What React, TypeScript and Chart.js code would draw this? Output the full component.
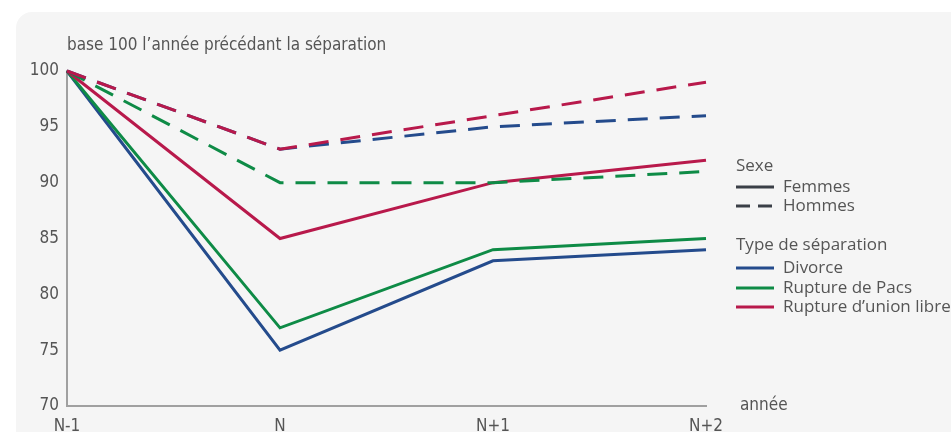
import React, { useEffect, useRef } from "react";
import { Chart, registerables } from "chart.js";

Chart.register(...registerables);

const categories = ["N-1", "N", "N+1", "N+2"];
const divorceFemmes = [100, 75, 83, 84];
const pacsFemmes = [100, 77, 84, 85];
const unionFemmes = [100, 85, 90, 92];
const divorceHommes = [100, 93, 95, 96];
const pacsHommes = [100, 90, 90, 91];
const unionHommes = [100, 93, 96, 99];

const BLUE = "#244b8c";
const GREEN = "#0e8b46";
const RED = "#b8194b";
const TEXT = "#555";
const CONDENSED = "'Liberation Sans Narrow', 'DejaVu Sans Condensed', 'Open Sans', sans-serif";
const SANS = "'Open Sans', 'Noto Sans', sans-serif";

const overlayPlugin = {
  id: "overlay",
  afterDraw(chart: any) {
    const ctx = chart.ctx as CanvasRenderingContext2D;
    const area = chart.chartArea;
    ctx.save();
    ctx.fillStyle = TEXT;
    ctx.font = `17px ${CONDENSED}`;
    ctx.textBaseline = "middle";
    ctx.textAlign = "left";
    ctx.fillText("base 100 l’année précédant la séparation", area.left, 46);
    ctx.fillText("année", area.right + 34, area.bottom);

    const lx = 736;
    const drawItem = (y: number, color: string, dash: number[], label: string) => {
      ctx.beginPath();
      ctx.setLineDash(dash);
      ctx.strokeStyle = color;
      ctx.lineWidth = 3;
      ctx.moveTo(lx, y);
      ctx.lineTo(lx + 38, y);
      ctx.stroke();
      ctx.setLineDash([]);
      ctx.fillStyle = TEXT;
      ctx.fillText(label, lx + 47, y);
    };
    ctx.font = `17px ${SANS}`;
    ctx.fillStyle = TEXT;
    ctx.fillText("Sexe", lx, 166);
    drawItem(187, "#3a3f47", [], "Femmes");
    drawItem(206, "#3a3f47", [14, 8], "Hommes");
    ctx.fillStyle = TEXT;
    ctx.fillText("Type de séparation", lx, 245);
    drawItem(268, BLUE, [], "Divorce");
    drawItem(288, GREEN, [], "Rupture de Pacs");
    drawItem(307, RED, [], "Rupture d’union libre");
    ctx.restore();
  },
};

export default function App() {
  const ref = useRef<HTMLCanvasElement>(null);
  useEffect(() => {
    if (!ref.current) return;
    const line = (data: number[], color: string, dashed: boolean) => ({
      data,
      borderColor: color,
      backgroundColor: color,
      borderWidth: 3,
      borderDash: dashed ? [20, 12] : [],
      pointRadius: 0,
      tension: 0,
      fill: false,
      clip: false as any,
    });
    const chart = new Chart(ref.current, {
      type: "line",
      data: {
        labels: categories,
        datasets: [
          line(unionHommes, RED, true),
          line(divorceHommes, BLUE, true),
          line(pacsHommes, GREEN, true),
          line(unionFemmes, RED, false),
          line(pacsFemmes, GREEN, false),
          line(divorceFemmes, BLUE, false),
        ],
      },
      options: {
        animation: false,
        responsive: false,
        layout: { padding: { left: 0, top: 71, right: 245, bottom: 0 } },
        plugins: { legend: { display: false }, title: { display: false }, tooltip: { enabled: false } },
        scales: {
          x: {
            offset: false,
            grid: { display: false },
            border: { display: true, color: "#a0a0a0", width: 2 },
            ticks: { color: TEXT, font: { family: CONDENSED, size: 17 }, padding: 2, maxRotation: 0 },
            afterFit: (s: any) => { s.height = 26; },
          },
          y: {
            min: 70,
            max: 100,
            grid: { display: false },
            border: { display: true, color: "#a0a0a0", width: 2 },
            ticks: { stepSize: 5, color: TEXT, font: { family: CONDENSED, size: 17 }, padding: 0 },
            afterFit: (s: any) => { s.width = 67; },
          },
        },
      },
      plugins: [overlayPlugin],
    });
    return () => chart.destroy();
  }, []);
  return (
    <div style={{ position: "fixed", left: 0, top: 0, width: 951, height: 432, background: "#fff", overflow: "hidden" }}>
      <div style={{ position: "absolute", left: 16, top: 12, width: 1000, height: 500, background: "#f5f5f5", borderRadius: 16 }} />
      <canvas ref={ref} width={951} height={432} style={{ position: "absolute", left: 0, top: 0, width: 951, height: 432 }} />
    </div>
  );
}
